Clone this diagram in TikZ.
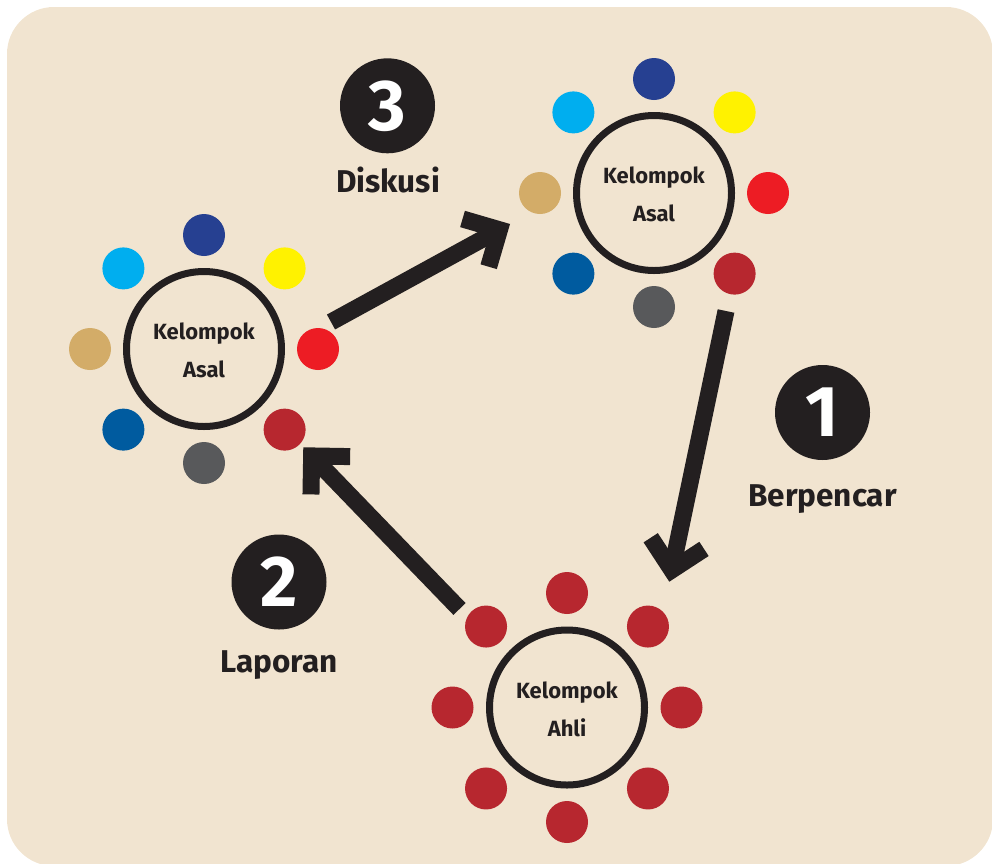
\documentclass[tikz,border=0pt]{standalone}
\usepackage{fontspec}
\setmainfont{Fira Sans}
\usetikzlibrary{calc}

\definecolor{paper}{RGB}{241,228,208}
\definecolor{ink}{RGB}{35,31,32}
\definecolor{navy}{RGB}{38,64,145}
\definecolor{sky}{RGB}{0,174,239}
\definecolor{lemon}{RGB}{255,242,0}
\definecolor{sand}{RGB}{211,172,104}
\definecolor{scarlet}{RGB}{237,28,36}
\definecolor{ocean}{RGB}{0,91,159}
\definecolor{maroon}{RGB}{183,39,47}
\definecolor{slate}{RGB}{88,89,91}

\tikzset{
  ring/.style={circle, draw=ink, line width=7pt, minimum size=155pt, inner sep=0pt,
    align=center, text=ink, font=\fontsize{22}{38}\selectfont\bfseries},
  seat/.style={circle, minimum size=42pt, inner sep=0pt},
  badge/.style={circle, fill=ink, minimum size=95pt, inner sep=0pt, text=white,
    font=\fontsize{72}{72}\selectfont\bfseries},
  caption/.style={anchor=base, inner sep=0pt, text=ink,
    font=\fontsize{31.5}{36}\selectfont\bfseries},
  shaft/.style={draw=ink, line width=17pt, line cap=butt},
  barb/.style={draw=ink, line width=17pt, line cap=butt, line join=miter},
}

% strut that lowers the two-line group titles a little
\newcommand\titlestrut{\rule{0pt}{20pt}}

% thick arrow with a right-angled chevron head
% #1 tail, #2 outer tip corner, #3 name of the chevron vertex
\newcommand\fatarrow[3]{%
  \coordinate (#3) at ($(#2)!12pt!(#1)$);
  \draw[shaft] (#1) -- (#3);
  \draw[barb] ($(#3)!38.5pt!45:(#1)$) -- (#3) -- ($(#3)!38.5pt!-45:(#1)$);
}

\begin{document}
\begin{tikzpicture}[x=1pt, y=-1pt]
  \clip (0,0) rectangle (992,863);
  \fill[paper, rounded corners=47pt] (7,7) rectangle (993,866);

  % home groups
  \node[ring] (asalA) at (204,349) {\titlestrut Kelompok\\Asal};
  \node[ring] (asalB) at (654,193) {\titlestrut Kelompok\\Asal};
  \foreach \g in {asalA, asalB}
    \foreach \a/\c [count=\i] in {90/navy, 135/sky, 45/lemon, 180/sand,
                                  0/scarlet, 225/ocean, 315/maroon, 270/slate}
      \node[seat, fill=\c] (\g-\i) at ($(\g)+(\a:114pt)$) {};

  % expert group
  \node[ring] (ahli) at (567,707.5) {\titlestrut Kelompok\\Ahli};
  \foreach \a [count=\i] in {0,45,...,315}
    \node[seat, fill=maroon] (ahli-\i) at ($(ahli)+(\a:114.5pt)$) {};

  % numbered steps
  \node[badge] (n1) at (822.5,412.5) {1};
  \node[caption] (l1) at (822.5,506.7) {Berpencar};
  \node[badge] (n2) at (279,582) {2};
  \node[caption] (l2) at (279,672) {Laporan};
  \node[badge] (n3) at (387.5,105.8) {3};
  \node[caption] (l3) at (388,192) {Diskusi};

  % arrows between the groups
  \coordinate (a1s) at (726,311);   \coordinate (a1t) at (669.3,581.7);
  \coordinate (a2s) at (459.5,609); \coordinate (a2t) at (303.3,447.3);
  \coordinate (a3s) at (331,322);   \coordinate (a3t) at (510,224);
  \fatarrow{a1s}{a1t}{a1v}
  \fatarrow{a2s}{a2t}{a2v}
  \fatarrow{a3s}{a3t}{a3v}
\end{tikzpicture}
\end{document}
